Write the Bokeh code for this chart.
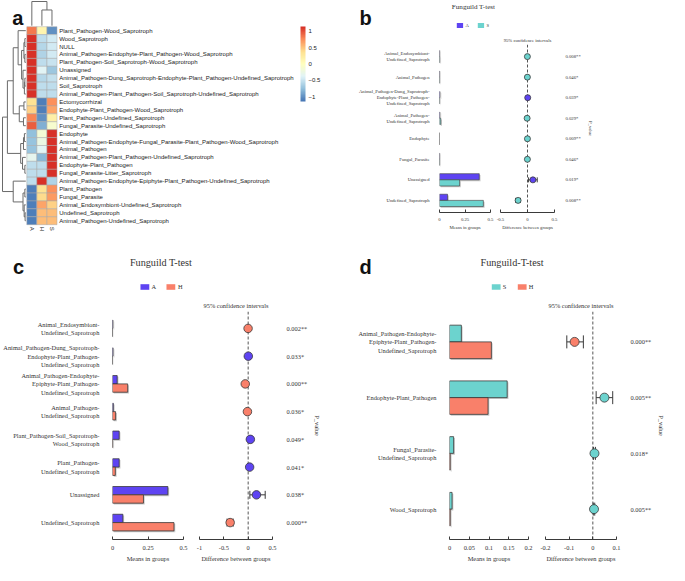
import numpy as np
from bokeh.plotting import figure
from bokeh.models import (Range1d, LinearColorMapper, ColorBar, FixedTicker, Label,
                          Legend, LegendItem, Span, Whisker, TeeHead, ColumnDataSource)
from bokeh.layouts import row, column
from bokeh.transform import dodge
from bokeh.core.properties import value
from bokeh.embed import file_html
from bokeh.resources import INLINE

# ---------------- data: panel a (z-score heatmap) ----------------
hm_rows = ["Plant_Pathogen-Wood_Saprotroph", "Wood_Saprotroph", "NULL",
           "Animal_Pathogen-Endophyte-Plant_Pathogen-Wood_Saprotroph",
           "Plant_Pathogen-Soil_Saprotroph-Wood_Saprotroph", "Unassigned",
           "Animal_Pathogen-Dung_Saprotroph-Endophyte-Plant_Pathogen-Undefined_Saprotroph",
           "Soil_Saprotroph",
           "Animal_Pathogen-Plant_Pathogen-Soil_Saprotroph-Undefined_Saprotroph",
           "Ectomycorrhizal", "Endophyte-Plant_Pathogen-Wood_Saprotroph",
           "Plant_Pathogen-Undefined_Saprotroph", "Fungal_Parasite-Undefined_Saprotroph",
           "Endophyte",
           "Animal_Pathogen-Endophyte-Fungal_Parasite-Plant_Pathogen-Wood_Saprotroph",
           "Animal_Pathogen", "Animal_Pathogen-Plant_Pathogen-Undefined_Saprotroph",
           "Endophyte-Plant_Pathogen", "Fungal_Parasite-Litter_Saprotroph",
           "Animal_Pathogen-Endophyte-Epiphyte-Plant_Pathogen-Undefined_Saprotroph",
           "Plant_Pathogen", "Fungal_Parasite", "Animal_Endosymbiont-Undefined_Saprotroph",
           "Undefined_Saprotroph", "Animal_Pathogen-Undefined_Saprotroph"]
hm_cols = ["A", "H", "S"]
hm_A = [0.85, 1.15, 1.15, 1.15, 1.15, 1.15, 1.15, 1.15, 1.15, 0.35, 0.45, 0.8, 0.95,
        -0.75, -0.72, -0.72, -0.3, -0.55, -0.55, -0.55, -1.1, -1.1, -1.1, -1.1, -1.1]
hm_H = [0.12, -0.55, -0.58, -0.6, -0.55, -0.35, -0.58, -0.55, -0.55, -1.1, -1.1, -1.0, -0.85,
        -0.15, -0.25, -0.35, -0.8, -0.55, -0.55, 1.15, 0.35, 0.4, 0.65, 0.55, 0.55]
hm_S = [-1.0, -0.45, -0.45, -0.45, -0.5, -0.7, -0.52, -0.55, -0.55, 0.75, 0.65, 0.2, -0.1,
        1.15, 1.15, 1.15, 1.15, 1.15, 1.15, -0.6, 0.75, 0.7, 0.45, 0.55, 0.55]
# hierarchical clustering merges: (left, right, relative height); new ids continue after leaves
row_merges = [(1, 2, 0.04), (3, 4, 0.04), (25, 26, 0.08), (6, 7, 0.04), (28, 8, 0.06),
              (5, 29, 0.12), (27, 30, 0.18), (0, 31, 0.33), (9, 10, 0.08), (11, 12, 0.1),
              (33, 34, 0.28), (32, 35, 0.54), (13, 14, 0.06), (37, 15, 0.1), (17, 18, 0.04),
              (16, 39, 0.14), (38, 40, 0.22), (36, 41, 0.79), (20, 21, 0.04), (23, 24, 0.03),
              (22, 44, 0.07), (43, 45, 0.12), (19, 46, 0.54), (42, 47, 1.0)]
col_merges = [(1, 2, 0.65), (0, 3, 1.0)]
cbar_ticks = [-1, -0.5, 0, 0.5, 1]
cbar_labels = ["\u22121", "\u22120.5", "0", "0.5", "1"]

# ---------------- data: panel b (A vs S) ----------------
b_groups = ["A", "S"]
b_names = ["Animal_Endosymbiont-\nUndefined_Saprotroph", "Animal_Pathogen",
           "Animal_Pathogen-Dung_Saprotroph-\nEndophyte-Plant_Pathogen-\nUndefined_Saprotroph",
           "Animal_Pathogen-\nUndefined_Saprotroph", "Endophyte", "Fungal_Parasite",
           "Unassigned", "Undefined_Saprotroph"]
b_mean1 = [0.002, 0.002, 0.005, 0.004, 0.0, 0.002, 0.39, 0.079]
b_mean2 = [0.003, 0.002, 0.002, 0.012, 0.0, 0.002, 0.197, 0.43]
b_diff = [-0.002, -0.002, 0.004, -0.007, -0.001, -0.002, 0.10, -0.174]
b_lo = [-0.004, -0.004, 0.002, -0.011, -0.002, -0.004, 0.02, -0.22]
b_hi = [0.0, 0.0, 0.006, -0.003, 0.0, 0.0, 0.18, -0.13]
b_p = ["0.008**", "0.046*", "0.039*", "0.029*", "0.009**", "0.046*", "0.019*", "0.008**"]
b_mean_ticks = [0, 0.25, 0.5]
b_mean_tick_labels = ["0", "0.25", "0.5"]
b_diff_ticks = [-0.5, 0, 0.5]
b_diff_tick_labels = ["-0.5", "0", "0.5"]

# ---------------- data: panel c (A vs H) ----------------
c_groups = ["A", "H"]
c_names = ["Animal_Endosymbiont-\nUndefined_Saprotroph",
           "Animal_Pathogen-Dung_Saprotroph-\nEndophyte-Plant_Pathogen-\nUndefined_Saprotroph",
           "Animal_Pathogen-Endophyte-\nEpiphyte-Plant_Pathogen-\nUndefined_Saprotroph",
           "Animal_Pathogen-\nUndefined_Saprotroph",
           "Plant_Pathogen-Soil_Saprotroph-\nWood_Saprotroph",
           "Plant_Pathogen-\nUndefined_Saprotroph", "Unassigned", "Undefined_Saprotroph"]
c_mean1 = [0.003, 0.004, 0.033, 0.006, 0.047, 0.047, 0.39, 0.073]
c_mean2 = [0.0005, 0.0005, 0.107, 0.022, 0.002, 0.02, 0.218, 0.433]
c_diff = [-0.002, 0.003, -0.06, -0.015, 0.045, 0.03, 0.17, -0.37]
c_lo = [-0.004, 0.001, -0.08, -0.025, 0.035, 0.02, 0.035, -0.434]
c_hi = [0.0, 0.005, -0.04, -0.005, 0.055, 0.04, 0.35, -0.307]
c_p = ["0.002**", "0.033*", "0.000**", "0.036*", "0.049*", "0.041*", "0.038*", "0.000**"]
c_mean_ticks = [0, 0.25, 0.5]
c_mean_tick_labels = ["0", "0.25", "0.5"]
c_diff_ticks = [-1, -0.5, 0, 0.5]
c_diff_tick_labels = ["-1", "-0.5", "0", "0.5"]

# ---------------- data: panel d (S vs H) ----------------
d_groups = ["S", "H"]
d_names = ["Animal_Pathogen-Endophyte-\nEpiphyte-Plant_Pathogen-\nUndefined_Saprotroph",
           "Endophyte-Plant_Pathogen", "Fungal_Parasite-\nUndefined_Saprotroph",
           "Wood_Saprotroph"]
d_mean1 = [0.030, 0.146, 0.0105, 0.0065]
d_mean2 = [0.106, 0.0976, 0.002, 0.002]
d_diff = [-0.077, 0.049, 0.007, 0.005]
d_lo = [-0.11, 0.014, 0.003, 0.002]
d_hi = [-0.04, 0.084, 0.011, 0.008]
d_p = ["0.000**", "0.005**", "0.018*", "0.005**"]
d_mean_ticks = [0, 0.05, 0.1, 0.15, 0.2]
d_mean_tick_labels = ["0", "0.05", "0.1", "0.15", "0.2"]
d_diff_ticks = [-0.2, -0.1, 0, 0.1]
d_diff_tick_labels = ["-0.2", "-0.1", "0", "0.1"]

GROUP_COLORS = {"A": "#5E44F2", "S": "#6CD3CE", "H": "#F9806A"}

SANS = "Liberation Sans"
SERIF = "Liberation Serif"
TXT = "#333333"
EDGE = "#3a3a3a"

# ---------------- panel a ----------------
base = ["#4575B4", "#91BFDB", "#E0F3F8", "#FFFFBF", "#FEE090", "#FC8D59", "#D73027"]
rgb = np.array([[int(c[i:i + 2], 16) for i in (1, 3, 5)] for c in base], float)
tp = np.linspace(0, 1, len(base))
pal = ["#%02x%02x%02x" % tuple(int(round(np.interp(tt, tp, rgb[:, k]))) for k in range(3))
       for tt in np.linspace(0, 1, 100)]
mapper = LinearColorMapper(palette=pal, low=-1.15, high=1.15)

W_A, H_TOP = 355, 250
hx, hy = 26.3, 26.2        # heatmap top-left corner (px)
cw, rh = 10.07, 7.92       # cell size (px)
x0 = -0.5 - hx / cw
y0 = -0.5 - hy / rh
fa = figure(width=W_A, height=H_TOP, x_range=Range1d(x0, x0 + W_A / cw),
            y_range=Range1d(y0 + H_TOP / rh, y0), x_axis_type=None, y_axis_type=None,
            toolbar_location=None, output_backend="svg", min_border=0, title=None)
fa.outline_line_color = None

nr = len(hm_rows)
hx_, hy_, hz_ = [], [], []
for j, vals in enumerate([hm_A, hm_H, hm_S]):
    for i, v in enumerate(vals):
        hx_.append(j)
        hy_.append(i)
        hz_.append(v)
hsrc = ColumnDataSource(dict(x=hx_, y=hy_, z=hz_))
fa.rect(x="x", y="y", width=1, height=1, source=hsrc,
        fill_color={"field": "z", "transform": mapper}, line_color="#a8a8a8", line_width=0.5)


def dendro(merges, n):
    pos = [float(i) for i in range(n)]
    hgt = [0.0] * n
    sp, sh = [], []
    for a, b, h in merges:
        sp.append([pos[a], pos[a], pos[b], pos[b]])
        sh.append([hgt[a], h, h, hgt[b]])
        pos.append((pos[a] + pos[b]) / 2)
        hgt.append(h)
    return sp, sh


rp, rhh = dendro(row_merges, nr)
fa.multi_line(xs=[[-0.5 - (1 + h * (hx - 3)) / cw for h in hs] for hs in rhh], ys=rp,
              line_color="#6a6a6a", line_width=1)
cp, chh = dendro(col_merges, len(hm_cols))
fa.multi_line(xs=cp, ys=[[-0.5 - (1 + h * (hy - 2)) / rh for h in hs] for hs in chh],
              line_color="#6a6a6a", line_width=1)

fa.text(x=[2.5 + 2.2 / cw] * nr, y=list(range(nr)), text=hm_rows,
        text_font=value(SANS), text_font_size="6px", text_baseline="middle",
        text_align="left", text_color="#1a1a1a")
fa.text(x=list(range(len(hm_cols))), y=[nr - 0.5 + 2 / rh] * len(hm_cols), text=hm_cols,
        angle=-np.pi / 2, text_font=value(SANS), text_font_size="6px",
        text_baseline="middle", text_align="left", text_color="#1a1a1a")
fa.add_layout(Label(x=x0 + 11.7 / cw, y=y0 + 17.8 / rh, text="a", text_font=SANS,
                    text_font_style="bold", text_font_size="20px",
                    text_baseline="alphabetic", text_color="#111111"))
cb = ColorBar(color_mapper=mapper, ticker=FixedTicker(ticks=cbar_ticks),
              major_label_overrides={t: l for t, l in zip(cbar_ticks, cbar_labels)},
              width=5, height=75, location=(300, 149), padding=0, margin=0,
              label_standoff=3, major_tick_line_color=None, bar_line_color=None,
              border_line_color=None, background_fill_alpha=0,
              major_label_text_font=SANS, major_label_text_font_size="6px",
              major_label_text_color="#1a1a1a")
fa.add_layout(cb)


# ---------------- t-test panels ----------------
def header(W, H, Wf, letter, lx, ly, title, ty, tfs, groups, lfs, gw, gh, lspace, lmargin):
    p = figure(width=W, height=H, x_range=Range1d(0, Wf), y_range=Range1d(H, 0),
               x_axis_type=None, y_axis_type=None, toolbar_location=None,
               output_backend="svg", min_border_left=0, min_border_top=0,
               min_border_bottom=0, min_border_right=W - Wf, title=None)
    p.outline_line_color = None
    p.add_layout(Label(x=lx, y=ly, text=letter, text_font=SANS, text_font_style="bold",
                       text_font_size="20px", text_baseline="alphabetic",
                       text_color="#111111"))
    p.add_layout(Label(x=Wf / 2, y=ty, text=title, text_align="center",
                       text_baseline="middle", text_font=SERIF, text_font_size=tfs,
                       text_color=TXT))
    items = []
    for g in groups:
        # legend-only renderer: its single point is NaN, so nothing is drawn in the frame
        r = p.rect(x=[np.nan], y=[np.nan], width=1, height=1,
                   fill_color=GROUP_COLORS[g], line_color=None)
        items.append(LegendItem(label=g, renderers=[r]))
    leg = Legend(items=items, location="bottom_center", orientation="horizontal",
                 glyph_width=gw, glyph_height=gh, label_height=gh, label_width=4,
                 label_standoff=2, spacing=lspace, padding=0, margin=lmargin,
                 border_line_color=None, background_fill_alpha=0,
                 label_text_font=SERIF, label_text_font_size=lfs, label_text_color=TXT)
    p.add_layout(leg)
    return p


def style_x(ax, ticks, labels, fs, text, lstand, astand):
    ax.ticker = FixedTicker(ticks=ticks)
    ax.major_label_overrides = {t: l for t, l in zip(ticks, labels)}
    ax.axis_line_color = EDGE
    ax.major_tick_line_color = EDGE
    ax.major_tick_in = 3
    ax.major_tick_out = 0
    ax.minor_tick_line_color = None
    ax.major_label_text_font = SERIF
    ax.major_label_text_font_size = fs
    ax.major_label_text_color = TXT
    ax.major_label_standoff = lstand
    ax.axis_label = text
    ax.axis_label_text_font = SERIF
    ax.axis_label_text_font_size = fs
    ax.axis_label_text_font_style = "normal"
    ax.axis_label_text_color = TXT
    ax.axis_label_standoff = astand


def style_y(ax, n, labels, fs, standoff):
    ax.ticker = FixedTicker(ticks=list(range(n)))
    ax.major_label_overrides = {i: l for i, l in enumerate(labels)}
    ax.axis_line_color = None
    ax.major_tick_line_color = None
    ax.minor_tick_line_color = None
    ax.major_label_text_font = SERIF
    ax.major_label_text_font_size = fs
    ax.major_label_text_color = TXT
    ax.major_label_standoff = standoff


def ttest_row(names, m1, m2, groups, diff, lo, hi, pvals, H, top, bot, pad,
              bw, bl, br, xmax, mticks, mlabels, dw, dl, dr, dmin, dmax, dticks, dlabels,
              fs, psize, tee, lw, lstand, astand, ystand, pstand, tstand):
    n = len(names)
    idx = np.arange(n)
    c1, c2 = GROUP_COLORS[groups[0]], GROUP_COLORS[groups[1]]
    # one screen pixel expressed in data units (for the soft bar shadow)
    ux = xmax / (bw - bl - br)
    uy = (n + 2 * pad) / (H - top - bot)

    bar = figure(width=bw, height=H, x_range=Range1d(0, xmax),
                 y_range=Range1d(n - 0.5 + pad, -0.5 - pad), toolbar_location=None,
                 output_backend="svg", min_border_left=bl, min_border_right=br,
                 min_border_top=top, min_border_bottom=bot, title=None)
    bar.outline_line_color = None
    bar.grid.visible = False
    for off, vals, col in ((-0.15, m1, c1), (0.15, m2, c2)):
        src = ColumnDataSource(dict(y=idx + off, left=[0.0] * n, right=vals))
        bar.hbar(y=dodge("y", 1.3 * uy), left=dodge("left", 1.3 * ux),
                 right=dodge("right", 1.3 * ux), height=0.3, source=src,
                 fill_color="#9a9a9a", fill_alpha=0.55, line_color=None)
        bar.hbar(y="y", left="left", right="right", height=0.3, source=src,
                 fill_color=col, line_color=EDGE, line_width=lw)
    style_x(bar.xaxis[0], mticks, mlabels, fs, "Means in groups", lstand, astand)
    style_y(bar.yaxis[0], n, names, fs, ystand)

    dfig = figure(width=dw, height=H, x_range=Range1d(dmin, dmax),
                  y_range=Range1d(n - 0.5 + pad, -0.5 - pad), toolbar_location=None,
                  output_backend="svg", y_axis_location="right", min_border_left=dl,
                  min_border_right=dr, min_border_top=top, min_border_bottom=bot,
                  title="95% confidence intervals")
    dfig.outline_line_color = None
    dfig.grid.visible = False
    dfig.title.align = "center"
    dfig.title.text_font = SERIF
    dfig.title.text_font_size = fs
    dfig.title.text_font_style = "normal"
    dfig.title.text_color = TXT
    dfig.title.standoff = tstand
    dfig.add_layout(Span(location=0, dimension="height", line_dash="3 2",
                         line_color="#555555", line_width=1, level="underlay"))
    wsrc = ColumnDataSource(dict(base=idx, lower=lo, upper=hi))
    dfig.add_layout(Whisker(source=wsrc, base="base", lower="lower", upper="upper",
                            dimension="width", line_color=EDGE, line_width=1,
                            level="underlay",
                            upper_head=TeeHead(size=tee, line_color=EDGE, line_width=1),
                            lower_head=TeeHead(size=tee, line_color=EDGE, line_width=1)))
    pcol = [c1 if d > 0 else c2 for d in diff]
    dfig.scatter(x=diff, y=idx, size=psize, fill_color=pcol, line_color=EDGE,
                 line_width=0.8)
    style_x(dfig.xaxis[0], dticks, dlabels, fs, "Difference between groups", lstand, astand)
    style_y(dfig.yaxis[0], n, pvals, fs, pstand)
    dfig.yaxis[0].axis_label = "P_value"
    dfig.yaxis[0].axis_label_text_font = SERIF
    dfig.yaxis[0].axis_label_text_font_size = fs
    dfig.yaxis[0].axis_label_text_font_style = "normal"
    dfig.yaxis[0].axis_label_text_color = TXT
    dfig.yaxis[0].axis_label_standoff = 4
    return row(bar, dfig)


# panel b
hdr_b = header(313, 32, 236, "b", 4, 17.8, "Funguild T-test", 6.8, "7.1px", b_groups,
               "4.7px", 8, 6, 7, 4)
row_b = ttest_row(b_names, b_mean1, b_mean2, b_groups, b_diff, b_lo, b_hi, b_p,
                  218, 12, 38, 0.09, 140, 81, 5, 0.5, b_mean_ticks, b_mean_tick_labels,
                  173, 5, 114, -0.5, 0.5, b_diff_ticks, b_diff_tick_labels,
                  "4.7px", 6, 5, 0.6, 5, 1, 4, 5, 3)
panel_b = column(hdr_b, row_b)

# panel c
hdr_c = header(355, 43, 321, "c", 12.4, 16.5, "Funguild T-test", 11.5, "10.2px", c_groups,
               "6.4px", 11, 7, 9, 3)
row_c = ttest_row(c_names, c_mean1, c_mean2, c_groups, c_diff, c_lo, c_hi, c_p,
                  271, 18, 24, 0.11, 191, 110, 8, 0.5, c_mean_ticks, c_mean_tick_labels,
                  164, 8, 83, -1, 0.5, c_diff_ticks, c_diff_tick_labels,
                  "6.4px", 8.5, 8, 0.8, 6, 2, 7, 8, 5)
panel_c = column(hdr_c, row_c)

# panel d
hdr_d = header(313, 43, 322, "d", 4, 16.5, "Funguild-T-test", 11.5, "10.2px", d_groups,
               "6.4px", 11, 7, 9, 3)
row_d = ttest_row(d_names, d_mean1, d_mean2, d_groups, d_diff, d_lo, d_hi, d_p,
                  271, 18, 24, 0.045, 182, 92, 9, 0.2, d_mean_ticks, d_mean_tick_labels,
                  131, 8, 42, -0.2, 0.1, d_diff_ticks, d_diff_tick_labels,
                  "6.4px", 9, 13, 0.8, 6, 2, 7, 8, 5)
panel_d = column(hdr_d, row_d)

layout = column(row(fa, panel_b), row(panel_c, panel_d))

open("out.html", "w").write(file_html(layout, INLINE))
